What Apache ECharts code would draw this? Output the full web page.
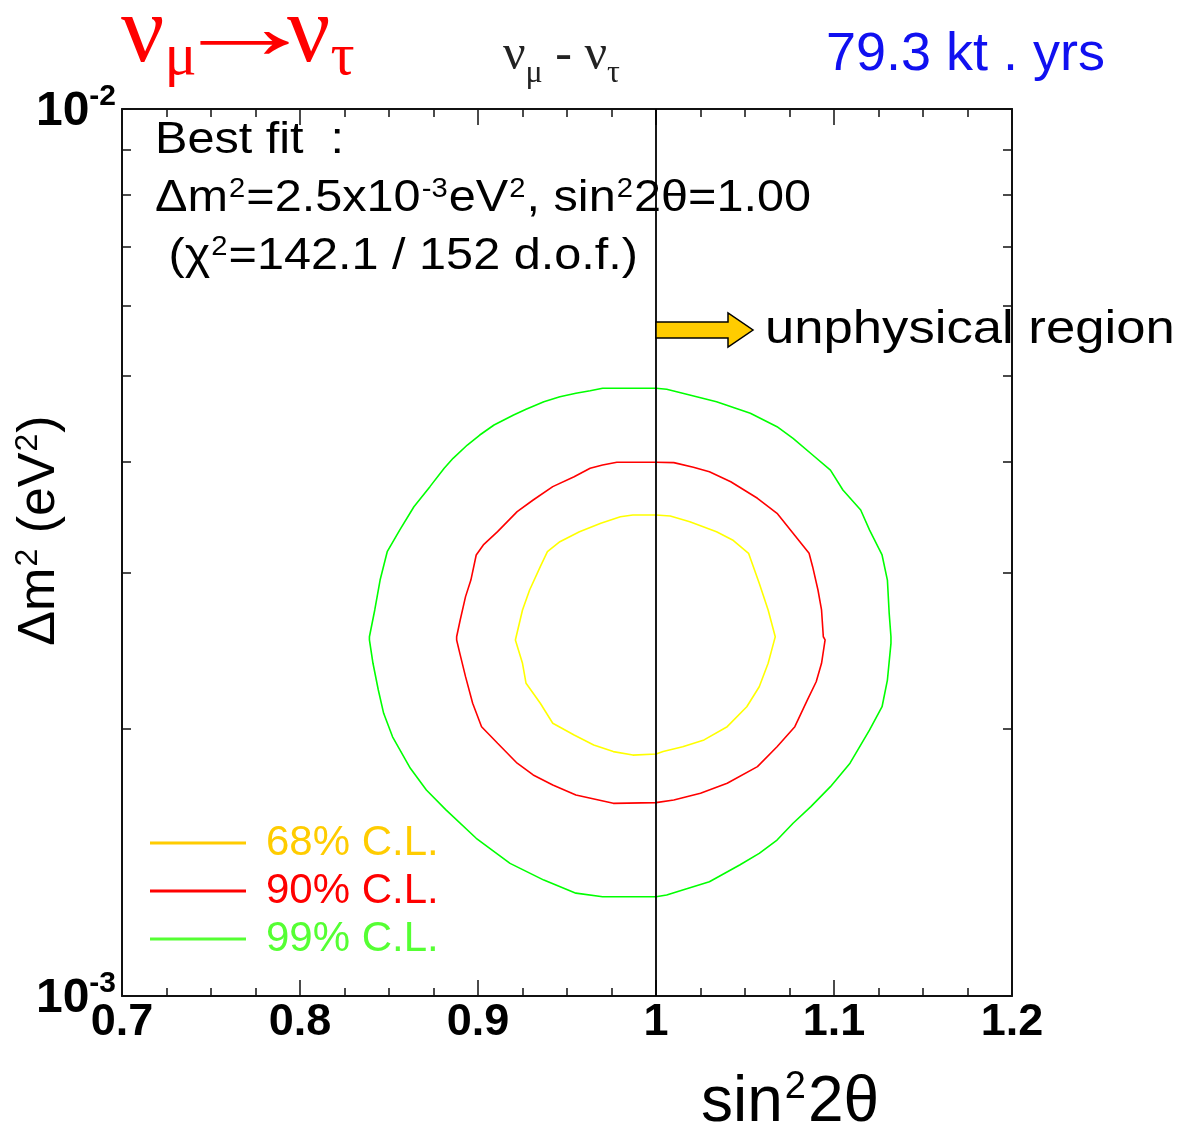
<!DOCTYPE html>
<html><head><meta charset="utf-8">
<script src="https://cdn.jsdelivr.net/npm/echarts@6/dist/echarts.min.js"></script>
<style>html,body{margin:0;padding:0;background:#fff}#c{width:1184px;height:1127px}</style>
</head><body><div id="c"></div>
<script>
// ---- data (x = sin^2 2theta, y = dm^2 in units of 1e-3 eV^2) ----
const xMin = 0.7, xMax = 1.2, xInterval = 0.1;
const yMin = 1e-3, yMax = 1e-2;
const yTickValues = [0.001,0.002,0.003,0.004,0.005,0.006,0.007,0.008,0.009,0.01];
const yLabelValues = [0.001, 0.01];
const seriesNames = ['68% C.L.', '90% C.L.', '99% C.L.'];
const bestFitX = 1.00, bestFitY = 2.5; // 1e-3 eV^2

const cl68 = [[1.000,3.486],[1.008,3.476],[1.019,3.425],[1.034,3.338],[1.043,3.267],[1.052,3.156],[1.058,2.919],[1.063,2.724],[1.067,2.541],
 [1.066,2.498],[1.063,2.372],[1.058,2.232],[1.051,2.119],[1.040,2.012],[1.027,1.944],[1.015,1.910],[1.004,1.886],[1.000,1.874],
 [0.987,1.869],[0.976,1.886],[0.965,1.919],[0.954,1.969],[0.942,2.030],[0.935,2.138],[0.927,2.252],[0.925,2.372],[0.921,2.520],
 [0.920,2.531],[0.925,2.724],[0.929,2.869],[0.935,3.048],[0.939,3.169],[0.946,3.252],[0.957,3.338],[0.969,3.411],[0.980,3.470],[0.987,3.486],[1.000,3.486]];

const cl90 = [[1.000,3.997],[1.010,3.993],[1.021,3.946],[1.030,3.900],[1.042,3.800],[1.057,3.640],[1.068,3.501],[1.077,3.324],[1.086,3.156],[1.088,3.048],[1.091,2.869],[1.093,2.724],[1.094,2.541],
 [1.095,2.520],[1.093,2.372],[1.090,2.261],[1.085,2.156],[1.078,2.012],[1.068,1.910],[1.057,1.814],[1.040,1.737],[1.025,1.693],[1.010,1.663],[1.000,1.652],
 [0.976,1.649],[0.955,1.685],[0.942,1.729],[0.931,1.775],[0.922,1.830],[0.911,1.927],[0.902,2.012],[0.897,2.138],[0.893,2.291],[0.890,2.424],[0.888,2.520],
 [0.888,2.541],[0.890,2.654],[0.893,2.820],[0.896,2.944],[0.899,3.142],[0.903,3.225],[0.911,3.338],[0.922,3.516],[0.931,3.624],[0.942,3.752],[0.954,3.850],[0.963,3.935],[0.970,3.969],[0.978,3.997],[1.000,3.997]];

const cl99 = [[1.000,4.843],[1.006,4.831],[1.015,4.781],[1.034,4.677],[1.053,4.539],[1.068,4.384],[1.077,4.253],[1.088,4.073],[1.098,3.917],[1.105,3.719],[1.115,3.531],[1.120,3.352],[1.127,3.142],[1.130,2.944],[1.131,2.701],[1.132,2.541],
 [1.132,2.498],[1.130,2.271],[1.127,2.119],[1.120,1.995],[1.109,1.830],[1.098,1.722],[1.087,1.635],[1.077,1.566],[1.068,1.499],[1.058,1.448],[1.047,1.405],[1.030,1.345],[1.015,1.317],[1.006,1.300],[1.000,1.294],
 [0.970,1.294],[0.955,1.306],[0.937,1.351],[0.918,1.411],[0.899,1.506],[0.882,1.621],[0.871,1.707],[0.862,1.806],[0.852,1.960],[0.847,2.083],[0.844,2.213],[0.841,2.372],[0.839,2.520],
 [0.839,2.541],[0.842,2.724],[0.845,2.944],[0.849,3.169],[0.856,3.352],[0.864,3.561],[0.873,3.752],[0.881,3.935],[0.886,4.038],[0.894,4.180],[0.901,4.290],[0.909,4.403],[0.920,4.519],[0.927,4.586],[0.937,4.677],[0.946,4.738],[0.955,4.781],[0.963,4.813],[0.970,4.843],[1.000,4.843]];

const contourColors = ['#FFFF00', '#FF0000', '#00FF00'];
const legendColors = ['#FFCC00', '#FF0000', '#55FF33'];

// ---- build ----
const toEV2 = arr => arr.map(p => [p[0], p[1] * 1e-3]);
const SANS = '"Liberation Sans", Arial, Helvetica, sans-serif';
const SERIF = '"Liberation Serif", "Times New Roman", serif';

const chart = echarts.init(document.getElementById('c'), null, {renderer: 'canvas'});

const xAxisCommon = {
  type: 'value', min: xMin, max: xMax, interval: xInterval,
  axisLine: {show: true, onZero: false, lineStyle: {color: '#111', width: 2}},
  axisTick: {show: true, inside: true, length: 16, lineStyle: {color: '#111', width: 1.5}},
  minorTick: {show: true, splitNumber: 4, length: 8, lineStyle: {color: '#111', width: 1.5}},
  splitLine: {show: false}, minorSplitLine: {show: false}
};
const yAxisCommon = {
  type: 'log', logBase: 10, min: yMin, max: yMax,
  axisLine: {show: true, onZero: false, lineStyle: {color: '#111', width: 2}},
  axisTick: {show: true, inside: true, length: 9, customValues: yTickValues, lineStyle: {color: '#111', width: 1.5}},
  splitLine: {show: false}
};

const option = {
  backgroundColor: '#fff',
  animation: false,
  grid: {left: 122, top: 109, right: 172, bottom: 131, containLabel: false, outerBoundsMode: 'none'},
  xAxis: [
    Object.assign({}, xAxisCommon, {
      position: 'bottom',
      axisLabel: {show: true, margin: 4, fontSize: 45, fontWeight: 'bold', color: '#000', fontFamily: SANS,
        formatter: v => (Math.round(v * 10) / 10).toString()},
      name: '{t|sin}{p|2}{t|2θ}',
      nameLocation: 'middle', nameGap: 73, nameMoveOverlap: false,
      nameTextStyle: {padding: [0, 0, 0, 446], rich: {
        t: {fontSize: 64, fontFamily: SANS, color: '#000', verticalAlign: 'bottom'},
        p: {fontSize: 38, fontFamily: SANS, color: '#000', verticalAlign: 'bottom', padding: [0, 2, 28, 2]}
      }}
    }),
    Object.assign({}, xAxisCommon, {position: 'top', axisLabel: {show: false}})
  ],
  yAxis: [
    Object.assign({}, yAxisCommon, {
      position: 'left',
      axisLabel: {show: true, margin: 6, customValues: yLabelValues,
        formatter: v => '{b|10}{s|' + Math.round(Math.log10(v)) + '}',
        rich: {
          b: {fontSize: 48, fontWeight: 'bold', fontFamily: SANS, color: '#000', verticalAlign: 'bottom'},
          s: {fontSize: 30, fontWeight: 'bold', fontFamily: SANS, color: '#000', verticalAlign: 'bottom', padding: [0, 0, 24, 0]}
        }},
      name: '{t|Δm}{p|2}{t| (eV}{p|2}{t|)}',
      nameLocation: 'middle', nameRotate: 90, nameGap: 56, nameMoveOverlap: false,
      nameTextStyle: {padding: [0, 0, 0, 44], rich: {
        t: {fontSize: 52, fontFamily: SANS, color: '#000', verticalAlign: 'bottom'},
        p: {fontSize: 32, fontFamily: SANS, color: '#000', verticalAlign: 'bottom', padding: [0, 1, 22, 1]}
      }}
    }),
    Object.assign({}, yAxisCommon, {position: 'right', axisLabel: {show: false}})
  ],
  legend: {
    orient: 'vertical', left: 150, top: 819, padding: 0, itemWidth: 96, itemHeight: 3, itemGap: 0,
    icon: 'rect', selectedMode: false,
    textStyle: {fontSize: 42, fontFamily: SANS, lineHeight: 48, padding: [0, 0, 0, 15]},
    data: seriesNames.map((n, i) => ({name: n, itemStyle: {color: legendColors[i]}, textStyle: {color: legendColors[i]}}))
  },
  series: [
    {name: seriesNames[0], type: 'line', data: toEV2(cl68), showSymbol: false, smooth: false,
      lineStyle: {color: contourColors[0], width: 1.6}, itemStyle: {color: contourColors[0]}, z: 3},
    {name: seriesNames[1], type: 'line', data: toEV2(cl90), showSymbol: false, smooth: false,
      lineStyle: {color: contourColors[1], width: 1.6}, itemStyle: {color: contourColors[1]}, z: 3},
    {name: seriesNames[2], type: 'line', data: toEV2(cl99), showSymbol: false, smooth: false,
      lineStyle: {color: contourColors[2], width: 1.6}, itemStyle: {color: contourColors[2]}, z: 3,
      markLine: {silent: true, symbol: 'none', label: {show: false},
        lineStyle: {color: '#000', width: 1.8, type: 'solid'},
        data: [{xAxis: bestFitX}]}}
  ]
};
chart.setOption(option);

// ---- annotations ----
const x1 = chart.convertToPixel({xAxisIndex: 0}, bestFitX);
const ay = 330;
const tRich = {
  t: {fontSize: 45, fontFamily: SANS, fill: '#000', verticalAlign: 'bottom'},
  p: {fontSize: 27, fontFamily: SANS, fill: '#000', verticalAlign: 'bottom', padding: [0, 1, 18, 1]}
};
const redRich = {
  n: {fontSize: 96, fontFamily: SERIF, fill: '#FF0000', verticalAlign: 'bottom', padding: [0, 0, 4, 0]},
  s: {fontSize: 60, fontFamily: SERIF, fill: '#FF0000', verticalAlign: 'bottom'}
};
chart.setOption({
  graphic: [
    // red title
    {type: 'text', x: 121, y: 88, z: 10, style: {text: '{n|ν}{s|μ}', textVerticalAlign: 'bottom', rich: redRich}},
    {type: 'text', x: 170, y: 34, scaleX: 1.62, z: 10, style: {
      text: '→', font: 'bold 92px ' + SERIF, fill: '#FF0000', textVerticalAlign: 'middle'}},
    {type: 'text', x: 287, y: 88, z: 10, style: {text: '{n|ν}{s|τ}', textVerticalAlign: 'bottom', rich: redRich}},
    // center title
    {type: 'text', x: 503, y: 90, z: 10, style: {
      text: '{n|ν}{s|μ}{n| - ν}{s|τ}', textVerticalAlign: 'bottom',
      rich: {
        n: {fontSize: 50, fontFamily: SERIF, fill: '#222', verticalAlign: 'bottom', padding: [0, 0, 9, 0]},
        s: {fontSize: 32, fontFamily: SERIF, fill: '#222', verticalAlign: 'bottom'}
      }}},
    // exposure
    {type: 'text', x: 826, y: 55, z: 10, style: {
      text: '79.3 kt . yrs', font: '54px ' + SANS, fill: '#1010F0', textVerticalAlign: 'middle'}},
    // best fit block
    {type: 'text', x: 155, y: 141, scaleX: 1.08, z: 10, style: {
      text: '{t|Best fit  :}', textVerticalAlign: 'middle', rich: tRich}},
    {type: 'text', x: 155, y: 199, scaleX: 1.08, z: 10, style: {
      text: '{t|Δm}{p|2}{t|=2.5x10}{p|-3}{t|eV}{p|2}{t|, sin}{p|2}{t|2θ=1.00}', textVerticalAlign: 'middle', rich: tRich}},
    {type: 'text', x: 155, y: 257, scaleX: 1.08, z: 10, style: {
      text: '{t| (χ}{p|2}{t|=142.1 / 152 d.o.f.)}', textVerticalAlign: 'middle', rich: tRich}},
    // arrow
    {type: 'polygon', z: 10, shape: {points: [
      [x1, ay - 8], [x1 + 72, ay - 8], [x1 + 72, ay - 17], [x1 + 97, ay], [x1 + 72, ay + 17], [x1 + 72, ay + 8], [x1, ay + 8]
    ]}, style: {fill: '#FFCC00', stroke: '#000', lineWidth: 1.5}},
    {type: 'text', x: x1 + 109, y: ay, scaleX: 1.12, z: 10, style: {
      text: 'unphysical region', font: '47px ' + SANS, fill: '#000', textVerticalAlign: 'middle'}}
  ]
});
</script>
</body></html>
